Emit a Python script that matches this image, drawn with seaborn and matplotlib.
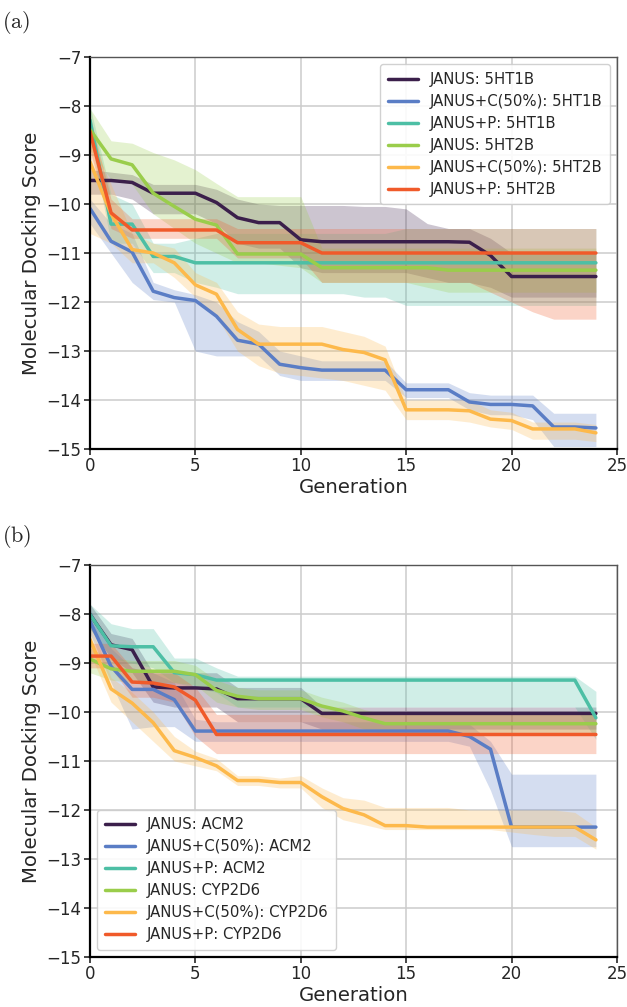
import numpy as np
import pandas as pd
import seaborn as sns
import matplotlib.pyplot as plt
import matplotlib as mpl

sns.set_style("whitegrid")
mpl.rc('font', family='DejaVu Sans', size=12)
mpl.rc('mathtext', fontset='cm')

generation = list(range(25))

colors = ["#3b1f4b", "#5a7dc5", "#4dbfa5", "#9acd4b", "#fdb94b", "#f05a2a"]

# ---- panel (a): 5HT1B / 5HT2B
labels_a = ["JANUS: 5HT1B", "JANUS+C(50%): 5HT1B", "JANUS+P: 5HT1B",
            "JANUS: 5HT2B", "JANUS+C(50%): 5HT2B", "JANUS+P: 5HT2B"]

a_janus_1b = [-9.52,-9.52,-9.56,-9.78,-9.78,-9.78,-9.97,-10.28,-10.38,-10.38,-10.73,-10.77,-10.77,
              -10.77,-10.77,-10.77,-10.77,-10.77,-10.78,-11.05,-11.48,-11.48,-11.48,-11.48,-11.48]
a_janus_1b_hi = [-9.3,-9.35,-9.4,-9.6,-9.6,-9.6,-9.7,-9.9,-10.0,-10.03,-10.03,-10.03,-10.03,
                 -10.05,-10.05,-10.1,-10.4,-10.5,-10.5,-10.7,-11.0,-11.0,-11.0,-11.0,-11.0]
a_janus_1b_lo = [-9.8,-9.8,-9.9,-10.2,-10.2,-10.2,-10.4,-10.8,-10.9,-10.9,-11.3,-11.4,-11.4,
                 -11.4,-11.4,-11.4,-11.5,-11.6,-11.6,-11.7,-11.9,-11.9,-11.9,-11.9,-11.9]

a_cmix_1b = [-10.09,-10.76,-10.98,-11.78,-11.91,-11.97,-12.29,-12.78,-12.86,-13.27,-13.34,-13.39,-13.39,
             -13.39,-13.39,-13.79,-13.79,-13.79,-14.04,-14.09,-14.09,-14.12,-14.55,-14.55,-14.57]
a_cmix_1b_hi = [-9.9,-10.4,-10.6,-11.6,-11.75,-11.85,-12.0,-12.4,-12.6,-13.0,-13.1,-13.2,-13.2,
                -13.2,-13.2,-13.65,-13.65,-13.65,-13.85,-13.9,-13.9,-13.9,-14.27,-14.27,-14.27]
a_cmix_1b_lo = [-10.4,-11.0,-11.6,-11.95,-12.0,-13.0,-13.1,-13.1,-13.1,-13.5,-13.6,-13.6,-13.6,
                -13.6,-13.6,-13.95,-13.95,-13.95,-14.2,-14.3,-14.3,-14.4,-14.95,-14.95,-14.95]

a_p_1b = [-8.29,-10.41,-10.41,-11.07,-11.07,-11.2,-11.2,-11.2,-11.2,-11.2,-11.2,-11.2,-11.2,
          -11.2,-11.2,-11.2,-11.2,-11.2,-11.2,-11.2,-11.2,-11.2,-11.2,-11.2,-11.2]
a_p_1b_hi = [-8.0,-9.8,-10.0,-10.8,-10.8,-10.7,-10.6,-10.6,-10.6,-10.6,-10.6,-10.6,-10.6,
             -10.6,-10.6,-10.5,-10.5,-10.5,-10.5,-10.5,-10.5,-10.5,-10.5,-10.5,-10.5]
a_p_1b_lo = [-8.6,-10.8,-10.8,-11.4,-11.4,-11.6,-11.7,-11.83,-11.83,-11.83,-11.83,-11.83,-11.83,
             -11.9,-11.9,-12.07,-12.07,-12.07,-12.07,-12.07,-12.07,-12.07,-12.07,-12.07,-12.07]

a_janus_2b = [-8.48,-9.08,-9.2,-9.78,-10.05,-10.31,-10.43,-11.02,-11.02,-11.02,-11.02,-11.3,-11.3,
              -11.3,-11.3,-11.3,-11.3,-11.35,-11.35,-11.35,-11.35,-11.35,-11.35,-11.35,-11.35]
a_janus_2b_hi = [-8.05,-8.71,-8.76,-8.95,-9.1,-9.3,-9.58,-9.85,-9.85,-9.85,-9.85,-10.9,-10.9,
                 -10.9,-10.9,-10.9,-10.9,-10.9,-10.9,-10.9,-10.9,-10.9,-10.9,-10.9,-10.9]
a_janus_2b_lo = [-8.9,-9.5,-9.6,-10.2,-10.5,-10.8,-11.0,-11.2,-11.2,-11.25,-11.3,-11.6,-11.6,
                 -11.6,-11.6,-11.6,-11.7,-11.8,-11.8,-11.8,-11.8,-11.8,-11.8,-11.8,-11.8]

a_cmix_2b = [-9.14,-10.2,-10.93,-11.0,-11.2,-11.65,-11.84,-12.56,-12.86,-12.86,-12.86,-12.86,-12.97,
             -13.03,-13.18,-14.2,-14.2,-14.2,-14.22,-14.39,-14.42,-14.59,-14.59,-14.59,-14.67]
a_cmix_2b_hi = [-8.6,-9.6,-10.6,-10.8,-10.9,-11.4,-11.6,-12.2,-12.45,-12.5,-12.5,-12.5,-12.6,
                -12.7,-12.9,-14.0,-14.0,-14.0,-14.0,-14.2,-14.25,-14.45,-14.45,-14.45,-14.5]
a_cmix_2b_lo = [-10.6,-10.8,-11.2,-11.2,-11.5,-11.9,-12.3,-13.0,-13.3,-13.45,-13.5,-13.55,-13.6,
                -13.7,-13.8,-14.4,-14.4,-14.4,-14.45,-14.55,-14.6,-14.8,-14.8,-14.8,-14.85]

a_p_2b = [-8.52,-10.18,-10.53,-10.53,-10.53,-10.53,-10.53,-10.79,-10.79,-10.79,-10.79,-11.0,-11.0,
          -11.0,-11.0,-11.0,-11.0,-11.0,-11.0,-11.0,-11.0,-11.0,-11.0,-11.0,-11.0]
a_p_2b_hi = [-8.2,-9.9,-10.3,-10.3,-10.3,-10.3,-10.3,-10.5,-10.5,-10.5,-10.5,-10.5,-10.5,
             -10.5,-10.5,-10.5,-10.5,-10.5,-10.5,-10.5,-10.5,-10.5,-10.5,-10.5,-10.5]
a_p_2b_lo = [-8.9,-10.5,-10.7,-10.7,-10.7,-10.7,-10.7,-11.1,-11.1,-11.1,-11.1,-11.6,-11.6,
             -11.6,-11.6,-11.6,-11.6,-11.6,-11.6,-11.8,-12.0,-12.2,-12.35,-12.35,-12.35]

# ---- panel (b): ACM2 / CYP2D6
labels_b = ["JANUS: ACM2", "JANUS+C(50%): ACM2", "JANUS+P: ACM2",
            "JANUS: CYP2D6", "JANUS+C(50%): CYP2D6", "JANUS+P: CYP2D6"]

b_janus_acm2 = [-8.01,-8.63,-8.73,-9.49,-9.51,-9.51,-9.53,-9.73,-9.73,-9.73,-9.73,-10.03,-10.03,
                -10.03,-10.03,-10.03,-10.03,-10.03,-10.03,-10.03,-10.03,-10.03,-10.03,-10.03,-10.03]
b_janus_acm2_hi = [-7.8,-8.4,-8.5,-9.2,-9.2,-9.2,-9.2,-9.5,-9.5,-9.5,-9.5,-9.9,-9.9,
                   -9.9,-9.9,-9.9,-9.9,-9.9,-9.9,-9.9,-9.9,-9.9,-9.9,-9.9,-9.9]
b_janus_acm2_lo = [-8.3,-8.9,-9.2,-9.8,-9.9,-9.9,-9.9,-10.2,-10.2,-10.2,-10.2,-10.35,-10.35,
                   -10.35,-10.35,-10.35,-10.35,-10.35,-10.35,-10.35,-10.35,-10.35,-10.35,-10.35,-10.35]

b_cmix_acm2 = [-8.15,-9.07,-9.54,-9.54,-9.75,-10.39,-10.39,-10.39,-10.39,-10.39,-10.39,-10.39,-10.39,
               -10.39,-10.39,-10.39,-10.39,-10.39,-10.5,-10.76,-12.35,-12.35,-12.35,-12.35,-12.35]
b_cmix_acm2_hi = [-7.9,-8.7,-9.1,-9.2,-9.4,-10.15,-10.2,-10.2,-10.2,-10.2,-10.2,-10.2,-10.2,
                  -10.2,-10.2,-10.2,-10.2,-10.2,-10.25,-10.6,-11.27,-11.27,-11.27,-11.27,-11.27]
b_cmix_acm2_lo = [-8.4,-9.4,-10.35,-10.3,-10.3,-10.6,-10.6,-10.6,-10.6,-10.6,-10.6,-10.6,-10.6,
                  -10.6,-10.6,-10.6,-10.6,-10.6,-10.7,-11.6,-12.75,-12.75,-12.75,-12.75,-12.75]

b_p_acm2 = [-8.01,-8.65,-8.67,-8.67,-9.2,-9.24,-9.35,-9.35,-9.35,-9.35,-9.35,-9.35,-9.35,
            -9.35,-9.35,-9.35,-9.35,-9.35,-9.35,-9.35,-9.35,-9.35,-9.35,-9.35,-10.12]
b_p_acm2_hi = [-7.8,-8.2,-8.3,-8.3,-8.9,-8.9,-9.1,-9.27,-9.27,-9.27,-9.27,-9.27,-9.27,
               -9.27,-9.27,-9.27,-9.27,-9.27,-9.27,-9.27,-9.27,-9.27,-9.27,-9.27,-9.58]
b_p_acm2_lo = [-8.3,-8.9,-9.0,-9.1,-9.4,-9.5,-9.6,-9.9,-9.9,-9.9,-9.9,-9.9,-9.9,
               -9.9,-9.9,-9.9,-9.9,-9.9,-9.9,-9.9,-9.9,-9.9,-9.9,-9.9,-10.56]

b_janus_cyp = [-8.92,-9.12,-9.17,-9.17,-9.17,-9.24,-9.56,-9.68,-9.73,-9.73,-9.73,-9.88,-9.98,
               -10.12,-10.24,-10.24,-10.24,-10.24,-10.24,-10.24,-10.24,-10.24,-10.24,-10.24,-10.24]
b_janus_cyp_hi = [-8.7,-8.9,-8.95,-8.95,-8.95,-9.05,-9.35,-9.5,-9.55,-9.55,-9.55,-9.7,-9.8,
                  -9.95,-10.05,-10.05,-10.05,-10.05,-10.05,-10.05,-10.05,-10.05,-10.05,-10.05,-10.05]
b_janus_cyp_lo = [-9.2,-9.35,-9.4,-9.4,-9.4,-9.45,-9.8,-9.9,-9.95,-9.95,-9.95,-10.1,-10.2,
                  -10.35,-10.45,-10.45,-10.45,-10.45,-10.45,-10.45,-10.45,-10.45,-10.45,-10.45,-10.45]

b_cmix_cyp = [-8.52,-9.53,-9.82,-10.22,-10.79,-10.93,-11.1,-11.4,-11.4,-11.44,-11.44,-11.73,-11.97,
              -12.1,-12.32,-12.32,-12.35,-12.35,-12.35,-12.35,-12.35,-12.35,-12.35,-12.35,-12.61]
b_cmix_cyp_hi = [-8.2,-9.3,-9.6,-10.0,-10.5,-10.8,-10.95,-11.3,-11.3,-11.35,-11.3,-11.55,-11.75,
                 -11.8,-11.95,-11.95,-11.95,-11.95,-12.0,-12.0,-12.0,-12.0,-12.0,-12.05,-12.35]
b_cmix_cyp_lo = [-8.8,-9.8,-10.2,-10.6,-11.0,-11.1,-11.2,-11.5,-11.5,-11.55,-11.55,-11.95,-12.2,
                 -12.3,-12.4,-12.4,-12.4,-12.4,-12.4,-12.4,-12.45,-12.5,-12.54,-12.54,-12.8]

b_p_cyp = [-8.86,-8.86,-9.39,-9.41,-9.49,-9.76,-10.46,-10.46,-10.46,-10.46,-10.46,-10.46,-10.46,
           -10.46,-10.46,-10.46,-10.46,-10.46,-10.46,-10.46,-10.46,-10.46,-10.46,-10.46,-10.46]
b_p_cyp_hi = [-8.6,-8.6,-9.1,-9.2,-9.2,-9.5,-10.05,-10.05,-10.05,-10.05,-10.05,-10.05,-10.05,
              -10.05,-10.05,-10.05,-10.05,-10.05,-10.05,-10.05,-10.05,-10.05,-10.05,-10.05,-10.05]
b_p_cyp_lo = [-9.1,-9.1,-9.7,-9.7,-9.8,-10.5,-10.85,-10.85,-10.85,-10.85,-10.85,-10.85,-10.85,
              -10.85,-10.85,-10.85,-10.85,-10.85,-10.85,-10.85,-10.85,-10.85,-10.85,-10.85,-10.85]

panel_a = [(a_janus_1b, a_janus_1b_lo, a_janus_1b_hi),
           (a_cmix_1b, a_cmix_1b_lo, a_cmix_1b_hi),
           (a_p_1b, a_p_1b_lo, a_p_1b_hi),
           (a_janus_2b, a_janus_2b_lo, a_janus_2b_hi),
           (a_cmix_2b, a_cmix_2b_lo, a_cmix_2b_hi),
           (a_p_2b, a_p_2b_lo, a_p_2b_hi)]
panel_b = [(b_janus_acm2, b_janus_acm2_lo, b_janus_acm2_hi),
           (b_cmix_acm2, b_cmix_acm2_lo, b_cmix_acm2_hi),
           (b_p_acm2, b_p_acm2_lo, b_p_acm2_hi),
           (b_janus_cyp, b_janus_cyp_lo, b_janus_cyp_hi),
           (b_cmix_cyp, b_cmix_cyp_lo, b_cmix_cyp_hi),
           (b_p_cyp, b_p_cyp_lo, b_p_cyp_hi)]


def draw_panel(ax, series, labels, legend_loc):
    rows = []
    for lab, (mean, lo, hi) in zip(labels, series):
        for g, m in zip(generation, mean):
            rows.append({"Generation": g, "score": m, "run": lab})
    df = pd.DataFrame(rows)
    for col, (mean, lo, hi) in zip(colors, series):
        ax.fill_between(generation, lo, hi, color=col, alpha=0.26, lw=0)
    sns.lineplot(data=df, x="Generation", y="score", hue="run", hue_order=labels,
                 palette=colors, lw=2.5, ax=ax, legend=True)
    ax.set(xlim=(0, 25), ylim=(-15, -7))
    ax.set_xticks([0, 5, 10, 15, 20, 25])
    ax.set_yticks(np.arange(-15, -6, 1))
    ax.set_xlabel("Generation", fontsize=14.2, labelpad=2)
    ax.set_ylabel("Molecular Docking Score", fontsize=14.2, labelpad=4)
    ax.grid(True, color="#cccccc", lw=1.1)
    for s in ["left", "bottom"]:
        ax.spines[s].set_color("black")
        ax.spines[s].set_linewidth(1.6)
    for s in ["top", "right"]:
        ax.spines[s].set_color("#555555")
        ax.spines[s].set_linewidth(1.0)
    ax.tick_params(axis="both", which="both", left=True, bottom=True, length=4,
                   width=1.2, labelsize=12, pad=2)
    leg = ax.legend(loc=legend_loc, fontsize=10.7, handlelength=2.0, borderpad=0.5,
                    labelspacing=0.47, framealpha=0.9)
    for h in leg.get_lines():
        h.set_linewidth(2.5)


fig = plt.figure(figsize=(6.27, 10.07), dpi=100)
ax_a = fig.add_axes([0.1435, 0.5541, 0.8405, 0.3893])
ax_b = fig.add_axes([0.1435, 0.0497, 0.8405, 0.3893])

draw_panel(ax_a, panel_a, labels_a, "upper right")
draw_panel(ax_b, panel_b, labels_b, "lower left")

fig.text(0.003, 0.978, r"$\mathrm{(a)}$", fontsize=16, ha="left", va="center")
fig.text(0.003, 0.467, r"$\mathrm{(b)}$", fontsize=16, ha="left", va="center")

plt.savefig("out.png", dpi=100)
plt.close()
